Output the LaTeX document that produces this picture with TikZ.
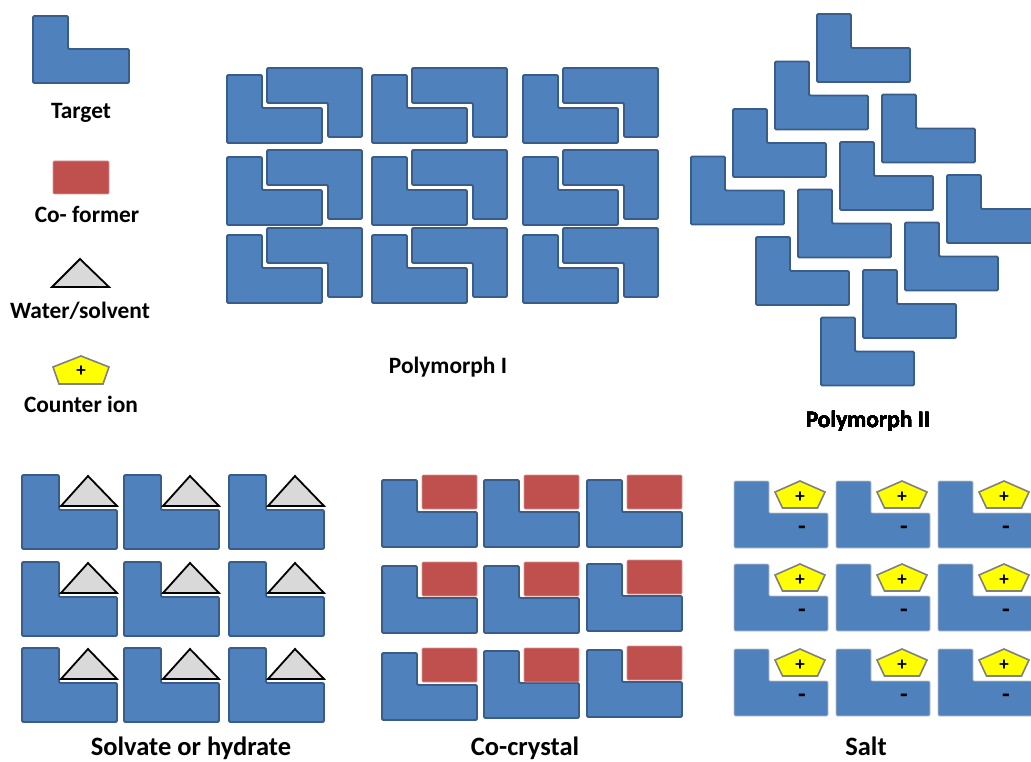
\documentclass[tikz,border=0pt]{standalone}
\usepackage{fontspec}
\setmainfont{Carlito}
\usepackage{xcolor}
\definecolor{molblue}{HTML}{4F81BD}
\definecolor{moledge}{HTML}{385D8A}
\definecolor{cofred}{HTML}{C0504D}
\definecolor{solvgray}{HTML}{D9D9D9}
\definecolor{ionyellow}{HTML}{FFFF00}
\usetikzlibrary{positioning}

% L-shaped target molecule: opts, x, y (top left), width, height, arm width, notch depth
\newcommand{\Lmol}[7][]{%
  \draw[target,#1] ({#2},{#3}) -- ++(#6,0) -- ++(0,#7) -- ++({#4-#6},0)
    -- ++(0,{#5-#7}) -- ++({-#4},0) -- cycle;}
% same molecule turned by 180 degrees
\newcommand{\Lflip}[7][]{%
  \draw[target,#1] ({#2},{#3}) -- ++(#4,0) -- ++(0,#5) -- ++({-#6},0)
    -- ++(0,{#7-#5}) -- ++({#6-#4},0) -- cycle;}

\begin{document}
\begin{tikzpicture}[
        x=1pt, y=-1pt,
        target/.style={fill=molblue, draw=moledge, line width=1.9pt, rounded corners=1.2pt},
        saltL/.style={draw=black!25, line width=0.8pt},
        coformer/.style={fill=cofred, draw=cofred!60!white, line width=0.6pt, rounded corners=1pt},
        solvent/.style={fill=solvgray, draw=black, line width=1.8pt, line join=miter},
        ionpent/.style={fill=ionyellow, draw=black!50, line width=1.6pt},
        lbl/.style={anchor=base, inner sep=0pt, font=\fontsize{23.4}{27}\selectfont\bfseries},
        big/.style={anchor=base, inner sep=0pt, font=\fontsize{26.5}{30}\selectfont\bfseries},
        sign/.style={inner sep=0pt, font=\fontsize{19}{22}\selectfont\bfseries},
        minus/.style={inner sep=0pt, font=\fontsize{25}{28}\selectfont\bfseries}
    ]
        \useasboundingbox (0,0) rectangle (1031,762);

        % legend
        \Lmol{33}{16}{96}{67}{35}{33}
        \node[lbl] (target) at (81,119) {Target};
        \fill[coformer] (53,161) rectangle (109,194);
        \node[lbl] (coform) at (87,223) {Co- former};
        \draw[solvent] (52,287) -- (80,259) -- (109,287) -- cycle;
        \node[lbl] (water) at (80,318) {Water/solvent};
        \draw[ionpent] (81,356) -- ++(28,11) -- ++(-6,17) -- ++(-44,0) -- ++(-6,-17) -- cycle;
        \node[sign] (plus0) at (81,371) {+};
        \node[lbl] (counter) at (81,412) {Counter ion};

        % polymorph I
        \foreach \cx in {227,372,523}
          \foreach \cy in {75,157,235} {
            \Lmol{\cx}{\cy}{95}{68}{35}{33}
            \Lflip{\cx+40}{\cy-7}{95}{69}{34}{35}
          }
        \node[lbl] (polyI) at (448,373) {Polymorph I};

        % polymorph II
        \foreach \i in {0,1,2}
          \foreach \j in {0,...,3}
            \Lmol{817+65*\i-42*\j}{14+80.5*\i+47.5*\j}{93}{68}{34}{34}
        \node[lbl] (polyII) at (868,427) {Polymorph II};

        % solvate or hydrate
        \foreach \cx in {22,124,229}
          \foreach \cy in {475,562,648} {
            \Lmol{\cx}{\cy}{95}{74}{37}{35}
            \draw[solvent] ({\cx+39},{\cy+31}) -- ({\cx+66},{\cy+1}) -- ({\cx+95},{\cy+31}) -- cycle;
          }
        \node[big] (solvate) at (191,755) {Solvate or hydrate};

        % co-crystal
        \foreach \cx/\cy/\ry in {382/480/475, 484/480/475, 587/480/475,
                                 382/566/562, 484/566/562, 587/564/560,
                                 382/653/648, 484/651/648, 587/650/646} {
            \Lmol{\cx}{\cy}{95}{67}{35}{32}
            \fill[coformer] ({\cx+40},{\ry}) rectangle ++(55,34);
          }
        \node[big] (cocrystal) at (525,755) {Co-crystal};

        % salt
        \foreach \cx [count=\c] in {734,836,938}
          \foreach \cy [count=\r] in {481,564,649} {
            \Lmol[saltL]{\cx}{\cy}{94}{67}{35}{32}
            \draw[ionpent] ({\cx+66},{\cy}) -- ++(25,11) -- ++(-7.5,16) -- ++(-35,0) -- ++(-7.5,-16) -- cycle;
            \node[sign] (plus\c\r) at ({\cx+66},{\cy+16}) {+};
            \node[minus] (minus\c\r) at ({\cx+68},{\cy+49}) {-};
          }
        \node[big] (salt) at (866,755) {Salt};
    \end{tikzpicture}
\end{document}
